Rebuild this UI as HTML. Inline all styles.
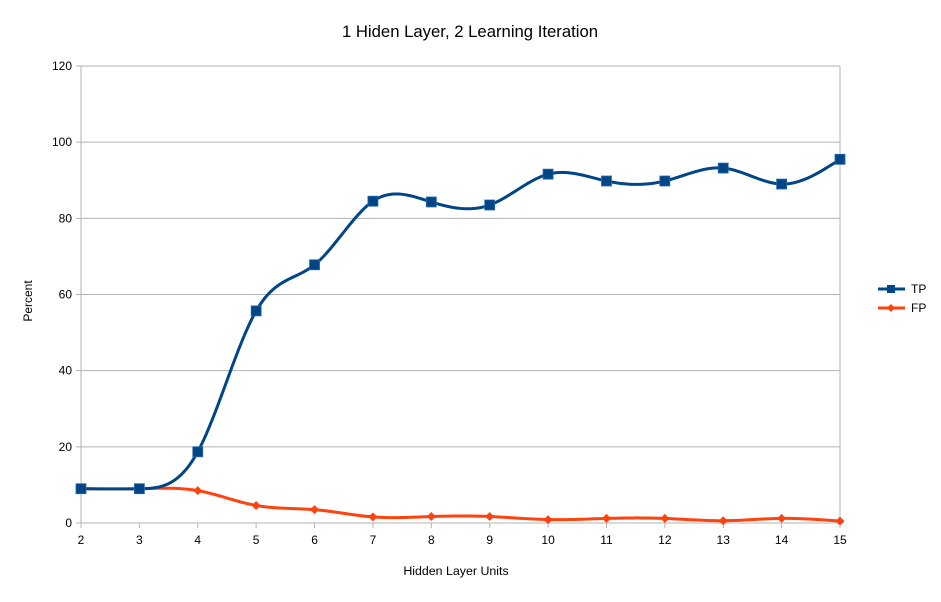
<!DOCTYPE html>
<html><head><meta charset="utf-8"><style>
body{margin:0;background:#fff;}
svg{font-family:"Liberation Sans",sans-serif;}
</style></head><body>
<svg id="chart" width="941" height="597" xmlns="http://www.w3.org/2000/svg">
<rect width="941" height="597" fill="#fff"/>
<text x="470" y="37" text-anchor="middle" font-size="16.7" fill="#000">1 Hiden Layer, 2 Learning Iteration</text>
<g id="grid"></g><g id="axes"></g><g id="series"></g>
<text x="456" y="575" text-anchor="middle" font-size="12.4">Hidden Layer Units</text>
<text transform="translate(32,301) rotate(-90)" text-anchor="middle" font-size="12">Percent</text>
<g>
<g><line x1="878" y1="289" x2="905" y2="289" stroke="#004586" stroke-width="3"/><rect x="887" y="285" width="8" height="8" fill="#004586"/><text x="911" y="293" font-size="12">TP</text></g>
<g><line x1="878" y1="308" x2="905" y2="308" stroke="#ff420e" stroke-width="3"/><path d="M891 304 L895 308 L891 312 L887 308 Z" fill="#ff420e"/><text x="911" y="312" font-size="12">FP</text></g>
</g>
</svg>
<script>
const categories=[2,3,4,5,6,7,8,9,10,11,12,13,14,15];
const tpValues=[9,9,18.7,55.7,67.8,84.5,84.3,83.5,91.6,89.8,89.8,93.2,89,95.5];
const fpValues=[9,9,8.5,4.6,3.5,1.6,1.7,1.7,0.9,1.2,1.2,0.6,1.2,0.5];
const yTicks=[0,20,40,60,80,100,120];
const NS="http://www.w3.org/2000/svg";
const X0=81,X1=840,Y0=523,Y1=66;
const xs=v=>X0+(v-categories[0])/(categories[categories.length-1]-categories[0])*(X1-X0);
const ys=v=>Y0-v/120*(Y0-Y1);
function mk(t,a,p){const e=document.createElementNS(NS,t);for(const k in a)e.setAttribute(k,a[k]);p.appendChild(e);return e;}
const grid=document.getElementById('grid'),axes=document.getElementById('axes'),ser=document.getElementById('series');
yTicks.forEach(t=>{
 const l=mk('line',{x1:X0-5,x2:X1,y1:ys(t),y2:ys(t),stroke:'#b3b3b3','stroke-width':1},grid);
 
 
 const tx=mk('text',{x:X0-9,y:ys(t)+4,'text-anchor':'end','font-size':12},axes);tx.textContent=t;
 
 
});
mk('line',{x1:X0,x2:X0,y1:Y1,y2:Y0+5,stroke:'#b3b3b3'},grid);
mk('line',{x1:X1,x2:X1,y1:Y1,y2:Y0,stroke:'#b3b3b3'},grid);
categories.forEach(c=>{
 mk('line',{x1:xs(c),x2:xs(c),y1:Y0,y2:Y0+5,stroke:'#b3b3b3'},grid);
 const tx=mk('text',{x:xs(c),y:Y0+21,'text-anchor':'middle','font-size':12},axes);tx.textContent=c;
 
 
});
function spline(px,py){
 const n=px.length,h=[],a=[],l=[1],mu=[0],z=[0],c=new Array(n).fill(0),b=[],d=[];
 for(let i=0;i<n-1;i++)h[i]=px[i+1]-px[i];
 for(let i=1;i<n-1;i++)a[i]=3/h[i]*(py[i+1]-py[i])-3/h[i-1]*(py[i]-py[i-1]);
 for(let i=1;i<n-1;i++){l[i]=2*(px[i+1]-px[i-1])-h[i-1]*mu[i-1];mu[i]=h[i]/l[i];z[i]=(a[i]-h[i-1]*z[i-1])/l[i];}
 for(let j=n-2;j>=0;j--){c[j]=(j>0?z[j]:0)-mu[j]*c[j+1];b[j]=(py[j+1]-py[j])/h[j]-h[j]*(c[j+1]+2*c[j])/3;d[j]=(c[j+1]-c[j])/(3*h[j]);}
 let s='M'+px[0]+' '+py[0];
 for(let i=0;i<n-1;i++)for(let k=1;k<=20;k++){const t=h[i]*k/20;s+=' L'+(px[i]+t).toFixed(2)+' '+(py[i]+b[i]*t+c[i]*t*t+d[i]*t*t*t).toFixed(2);}
 return s;
}
function draw(vals,color,name,marker){
 const px=categories.map(xs),py=vals.map(ys);
 const p=mk('path',{d:spline(px,py),fill:'none',stroke:color,'stroke-width':3},ser);
 
 
 px.forEach((x,i)=>{
  let m;
  if(marker==='sq')m=mk('rect',{x:x-5,y:py[i]-5,width:10,height:10,fill:color,stroke:'#2a6aa8','stroke-width':0.8},ser);
  else m=mk('path',{d:`M${x} ${py[i]-4.5} L${x+4.5} ${py[i]} L${x} ${py[i]+4.5} L${x-4.5} ${py[i]} Z`,fill:color},ser);
  
  
 });
}
draw(fpValues,'#ff420e','fp','di');
draw(tpValues,'#004586','tp','sq');
</script>
</body></html>
